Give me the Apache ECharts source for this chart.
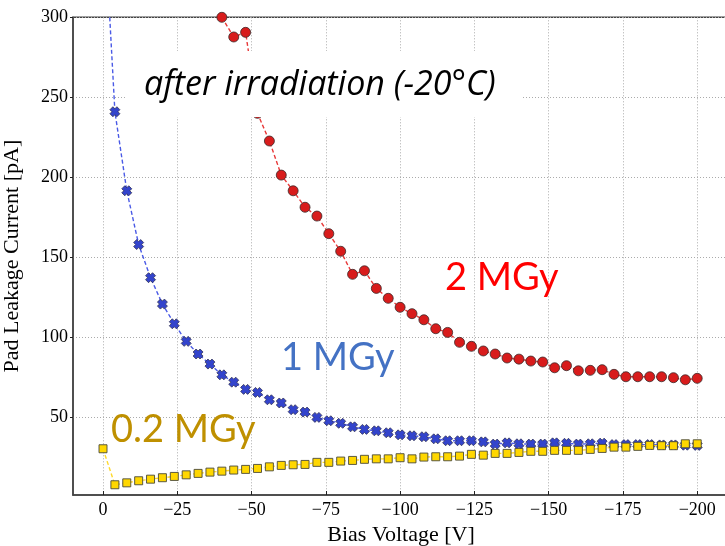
<!DOCTYPE html>
<html>
<head>
<meta charset="utf-8">
<script src="https://cdn.jsdelivr.net/npm/echarts@6/dist/echarts.min.js"></script>
<style>
  html, body { margin: 0; padding: 0; background: #ffffff; }
  #chart { width: 725px; height: 546px; }
</style>
</head>
<body>
<div id="chart"></div>
<script>
// Bias voltage steps [V]
const biasVoltage = [
  0, -4, -8, -12, -16, -20, -24, -28, -32, -36,
  -40, -44, -48, -52, -56, -60, -64, -68, -72, -76,
  -80, -84, -88, -92, -96, -100, -104, -108, -112, -116,
  -120, -124, -128, -132, -136, -140, -144, -148, -152, -156,
  -160, -164, -168, -172, -176, -180, -184, -188, -192, -196, -200
];

// Pad leakage current [pA] after 0.2 MGy
const current02MGy = [
  30.4, 7.9, 9.1, 10.4, 11.4, 12.3, 13.1, 14.1, 15.0, 15.8,
  16.4, 17.1, 17.5, 18.1, 19.1, 20.0, 20.4, 20.6, 21.9, 21.9,
  22.7, 23.1, 23.8, 24.1, 24.1, 24.8, 24.1, 25.2, 25.4, 25.4,
  25.8, 26.9, 26.4, 27.5, 27.5, 28.1, 28.8, 28.8, 29.4, 29.4,
  29.4, 30.0, 30.6, 31.4, 31.4, 31.9, 32.5, 32.3, 32.3, 33.5, 33.5
];

// Pad leakage current [pA] after 1 MGy
const current1MGy = [
  377, 241, 191.6, 158, 137.3, 120.8, 108.5, 97.5, 89.6, 83.3,
  76.6, 72.0, 67.5, 65.6, 61.0, 59.0, 54.8, 53.3, 50.0, 47.9,
  46.3, 44.1, 42.5, 41.6, 40.4, 39.1, 38.5, 37.9, 36.6, 35.4,
  35.4, 35.4, 34.7, 33.3, 34.1, 33.5, 33.3, 33.3, 34.1, 33.8,
  33.3, 33.5, 33.9, 33.0, 33.0, 33.0, 33.0, 32.8, 32.8, 32.6, 32.5
];

// Pad leakage current [pA] after 2 MGy (below -40 V it is off scale)
const current2MGy = [
  null, null, null, null, null, null, null, null, null, null,
  300, 287.7, 290.6, 240, 222.7, 201.4, 191.6, 181.3, 175.8, 164.8,
  153.8, 139.4, 141.6, 130.6, 124.4, 118.8, 114.8, 111.0, 105.4, 103.1,
  96.9, 94.4, 91.5, 89.6, 87.1, 86.4, 85.2, 84.6, 81.0, 82.3,
  79.1, 79.4, 79.8, 76.9, 75.4, 75.4, 75.4, 75.4, 74.8, 73.5, 74.4
];

// Tick positions
const xTicks = [0, -25, -50, -75, -100, -125, -150, -175, -200];
const yTicks = [50, 100, 150, 200, 250, 300];

const pairs = (ys) => biasVoltage.map((v, i) => [v, ys[i]]);

const serifFont = '"Liberation Serif", "DejaVu Serif", serif';
const sansFont = 'Lato, "Open Sans", sans-serif';
const gridLine = { show: true, lineStyle: { color: '#ababab', type: [1, 2], width: 1 } };
const crossPath = 'path://M3 0L5 2L7 0L10 3L8 5L10 7L7 10L5 8L3 10L0 7L2 5L0 3Z';

const chart = echarts.init(document.getElementById('chart'), null, { renderer: 'canvas' });

chart.setOption({
  backgroundColor: '#ffffff',
  animation: false,
  grid: {
    left: 73, top: 17.3, width: 656, height: 477.7,
    show: true, borderColor: '#444444', borderWidth: 1.5,
    backgroundColor: 'transparent',
    containLabel: false, outerBoundsMode: 'none'
  },
  xAxis: {
    type: 'value',
    min: -210.7, max: 10.1, inverse: true,
    name: 'Bias Voltage [V]', nameLocation: 'middle', nameGap: 22,
    nameTextStyle: { fontFamily: serifFont, fontSize: 22, color: '#000' },
    axisLine: { show: true, onZero: false, lineStyle: { color: '#444444', width: 1.5 } },
    axisTick: { show: true, inside: true, length: 4, customValues: xTicks, lineStyle: { color: '#222' } },
    axisLabel: {
      customValues: xTicks, margin: 6,
      fontFamily: serifFont, fontSize: 18, color: '#000',
      formatter: (v) => (v === 0 ? '0' : '\u2212' + Math.abs(v))
    },
    splitLine: gridLine
  },
  yAxis: {
    type: 'value',
    min: 1.5, max: 300,
    name: 'Pad Leakage Current [pA]', nameLocation: 'middle', nameGap: 50,
    nameTextStyle: { fontFamily: serifFont, fontSize: 22, color: '#000' },
    axisLine: { show: true, onZero: false, lineStyle: { color: '#444444', width: 1.5 } },
    axisTick: { show: true, inside: false, length: 3, customValues: yTicks, lineStyle: { color: '#222' } },
    axisLabel: {
      customValues: yTicks, margin: 5,
      fontFamily: serifFont, fontSize: 18, color: '#000'
    },
    splitLine: gridLine
  },
  series: [
    {
      name: '1 MGy', type: 'line', data: pairs(current1MGy),
      symbol: crossPath, symbolSize: 10, clip: true,
      lineStyle: { color: '#4a5ae6', width: 1.4, type: [4, 2.5] },
      itemStyle: { color: '#3344cc', borderColor: '#333355', borderWidth: 0.8 }
    },
    {
      name: '2 MGy', type: 'line', data: pairs(current2MGy),
      symbol: 'circle', symbolSize: 10, clip: true, connectNulls: false,
      lineStyle: { color: '#e83a3a', width: 1.4, type: [4, 2.5] },
      itemStyle: { color: '#d81c1c', borderColor: '#3a2a2a', borderWidth: 0.8 }
    },
    {
      name: '0.2 MGy', type: 'line', data: pairs(current02MGy),
      symbol: 'rect', symbolSize: 8, clip: true,
      lineStyle: { color: '#ffd92a', width: 1.4, type: [4, 2.5] },
      itemStyle: { color: '#ffd700', borderColor: '#4a4a3a', borderWidth: 0.9 }
    }
  ],
  graphic: [
    {
      type: 'rect', z: 100,
      shape: { x: 127, y: 51, width: 395, height: 66 },
      style: { fill: '#ffffff' }
    },
    {
      type: 'text', z: 101, x: 144, y: 85,
      style: {
        text: 'after irradiation (-20\u00B0C)',
        font: 'italic 34px "Open Sans", "Noto Sans", sans-serif', fill: '#000000',
        verticalAlign: 'middle', align: 'left'
      }
    },
    {
      type: 'text', z: 101, x: 445, y: 278,
      style: { text: '2 MGy', font: '38px ' + sansFont, fill: '#ff0000', verticalAlign: 'middle' }
    },
    {
      type: 'text', z: 101, x: 281, y: 358,
      style: { text: '1 MGy', font: '38px ' + sansFont, fill: '#4472c4', verticalAlign: 'middle' }
    },
    {
      type: 'text', z: 101, x: 111, y: 430,
      style: { text: '0.2 MGy', font: '38px ' + sansFont, fill: '#bf9000', verticalAlign: 'middle' }
    }
  ]
});
</script>
</body>
</html>
